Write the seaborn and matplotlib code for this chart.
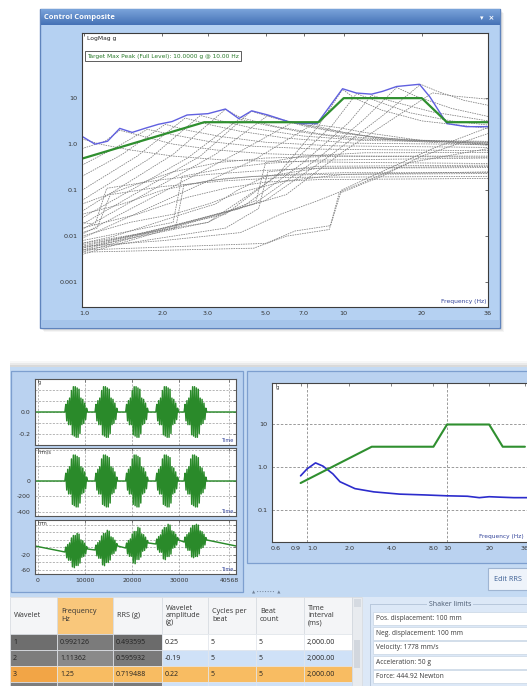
import numpy as np
import pandas as pd
import matplotlib
matplotlib.use("Agg")
import matplotlib.pyplot as plt
from matplotlib.patches import Rectangle
from matplotlib.ticker import NullLocator
import seaborn as sns

# ---------------- Control Composite (SRS, log-log) ----------------
target_freq = [0.9, 2.9, 8.0, 10.0, 20.0, 25.0, 36.0]
target_g = [0.42, 3.0, 3.0, 10.0, 10.0, 3.0, 3.0]

peak_freq = [0.98, 1.1, 1.23, 1.37, 1.53, 1.71, 1.93, 2.18, 2.49, 3.0, 3.5, 3.94, 4.42,
             5.1, 6.1, 6.9, 7.9, 9.9, 11.2, 12.8, 14.1, 16.0, 19.6, 21.5, 25.0, 29.7, 36.0]
peak_g = [1.48, 1.0, 1.16, 2.2, 1.8, 2.2, 2.7, 3.1, 4.3, 4.6, 5.8, 3.6, 5.3,
          4.3, 3.1, 2.8, 2.8, 16.0, 12.9, 12.2, 14.0, 17.9, 20.0, 10.6, 2.8, 2.4, 2.4]

# per-wavelet SRS traces, [frequency Hz, g] vertices
upper_traces = [
    [[0.98, 1.3], [1.15, 1.0], [1.5, 0.75], [2.2, 0.55], [3.5, 0.45], [6, 0.42], [12, 0.4], [36, 0.38]],
    [[0.98, 0.8], [1.2, 1.15], [1.37, 2.0], [1.6, 1.6], [2.2, 1.0], [3.2, 0.75], [5, 0.62], [10, 0.55], [36, 0.52]],
    [[0.98, 0.35], [1.3, 0.8], [1.75, 2.1], [2.2, 1.6], [3.0, 1.15], [4.5, 0.9], [8, 0.78], [36, 0.72]],
    [[0.98, 0.2], [1.4, 0.6], [2.05, 2.7], [2.5, 2.0], [3.4, 1.45], [5, 1.1], [9, 0.92], [36, 0.85]],
    [[0.98, 0.1], [1.6, 0.55], [2.45, 3.7], [3.0, 2.7], [4.0, 1.9], [6, 1.35], [11, 1.05], [36, 0.98]],
    [[0.98, 0.06], [1.8, 0.5], [2.8, 4.2], [3.3, 3.3], [4.5, 2.2], [7, 1.5], [12, 1.2], [36, 1.1]],
    [[0.98, 0.035], [2.2, 0.6], [3.5, 5.7], [4.0, 3.8], [5.5, 2.4], [8.5, 1.6], [15, 1.25], [36, 1.15]],
    [[0.98, 0.025], [2.5, 0.5], [3.95, 3.5], [5.0, 2.6], [7, 1.8], [11, 1.3], [36, 1.1]],
    [[0.98, 0.018], [2.8, 0.55], [4.4, 5.2], [5.3, 3.8], [7, 2.5], [10, 1.7], [18, 1.2], [36, 1.05]],
    [[0.98, 0.014], [3.2, 0.6], [5.1, 4.2], [6.3, 3.0], [8.5, 2.1], [13, 1.4], [36, 1.0]],
    [[0.98, 0.011], [3.8, 0.6], [6.3, 2.9], [8, 2.4], [10, 1.8], [16, 1.2], [36, 0.95]],
    [[0.98, 0.009], [4.5, 0.45], [7.6, 2.7], [9.5, 2.3], [12, 1.8], [20, 1.2], [36, 1.0]],
]
high_traces = [
    [[0.98, 0.007], [3, 0.02], [5.5, 0.2], [8, 2.5], [9.9, 15.5], [11, 10], [14, 5.5], [20, 3.2], [36, 2.2]],
    [[0.98, 0.006], [3.5, 0.03], [6, 0.3], [9, 2.5], [11.2, 12.5], [13.5, 8.5], [18, 4.8], [26, 3.2], [36, 2.6]],
    [[0.98, 0.0055], [4, 0.04], [7, 0.4], [10.5, 3], [12.8, 11.5], [16, 8], [22, 5], [36, 3.2]],
    [[0.98, 0.005], [4.5, 0.05], [8, 0.5], [12, 3.5], [16, 17], [19, 11], [26, 6], [36, 4]],
    [[0.98, 0.0045], [5, 0.06], [9, 0.6], [14, 4], [19.8, 20], [23, 14], [29, 9], [36, 7]],
    [[0.98, 0.004], [6, 0.08], [10, 0.7], [16, 4], [22, 13], [27, 11], [36, 9.5]],
]
step_traces = [
    [[0.98, 0.02], [1.1, 0.018], [1.22, 0.11], [2.0, 0.17], [3.0, 0.22], [5, 0.27], [8, 0.3], [36, 0.31]],
    [[0.98, 0.012], [1.12, 0.015], [1.26, 0.08], [2.0, 0.12], [3.5, 0.16], [6, 0.19], [36, 0.2]],
    [[0.98, 0.008], [2.2, 0.02], [2.38, 0.2], [3.5, 0.3], [5, 0.38], [8, 0.45], [36, 0.5]],
    [[0.98, 0.0065], [2.25, 0.015], [2.42, 0.13], [3.5, 0.18], [6, 0.22], [10, 0.24], [36, 0.24]],
    [[0.98, 0.0055], [3.0, 0.02], [3.8, 0.04], [4.6, 0.06], [5.0, 0.4], [7, 0.55], [12, 0.65], [36, 0.66]],
    [[0.98, 0.005], [3.5, 0.015], [4.7, 0.04], [5.1, 0.25], [8, 0.33], [36, 0.35]],
    [[0.98, 0.0045], [4.5, 0.0055], [6, 0.01], [8.8, 0.014], [9.6, 0.085], [14, 0.2], [20, 0.55], [36, 1.7]],
    [[0.98, 0.005], [5, 0.007], [6.5, 0.013], [8.9, 0.017], [9.8, 0.1], [15, 0.3], [22, 0.8], [36, 2.3]],
    [[0.98, 0.006], [2, 0.008], [4, 0.012], [5.7, 0.03], [8, 0.06], [12, 0.15], [18, 0.4], [36, 0.8]],
    [[0.98, 0.01], [1.5, 0.02], [2.2, 0.03], [3.0, 0.05], [4, 0.09], [6, 0.16], [10, 0.22], [36, 0.25]],
    [[0.98, 0.015], [1.6, 0.03], [2.5, 0.07], [3.5, 0.11], [5, 0.15], [8, 0.17], [36, 0.18]],
    [[0.98, 0.03], [1.4, 0.05], [2, 0.1], [3, 0.16], [4.5, 0.2], [8, 0.22], [36, 0.23]],
    [[0.98, 0.05], [1.5, 0.12], [2.2, 0.25], [3.3, 0.4], [5, 0.5], [10, 0.55], [36, 0.55]],
    [[0.98, 0.007], [1.3, 0.01], [1.8, 0.018], [2.6, 0.035], [3.2, 0.05], [3.9, 0.1], [5, 0.2], [8, 0.3], [36, 0.33]],
]
srs_ticks = [1, 2, 3, 5, 7, 10, 20, 36]
srs_ticklabels = ["1.0", "2.0", "3.0", "5.0", "7.0", "10", "20", "36"]

# ---------------- selected wavelet RRS ----------------
rrs_freq = [0.9, 1.0, 1.15, 1.3, 1.53, 1.72, 2.2, 3.0, 4.6, 7.0, 10.0, 14.0, 17.0, 20.0, 24.0, 30.0, 40.0]
rrs_g = [0.62, 0.9, 1.25, 1.05, 0.69, 0.45, 0.31, 0.26, 0.23, 0.22, 0.21, 0.205, 0.19, 0.2, 0.195, 0.19, 0.19]
rrs_ticks = [0.6, 0.9, 1.0, 2.0, 4.0, 8.0, 10, 20, 36]
rrs_ticklabels = ["0.6", "0.9", "1.0", "2.0", "4.0", "8.0", "10", "20", "36"]

# ---------------- time histories of the beat sequence ----------------
beat_times = [8100, 14500, 21000, 27400, 33400]
beat_offsets = [-2400, -2200, -2000, -1800, -1600, -1400, -1200, -1000, -800, -600, -400, -200, 0,
                200, 400, 600, 800, 1000, 1200, 1400, 1600, 1800, 2000, 2200, 2400]
beat_shape = [0, 0.3, -0.35, 0.45, -0.5, 0.55, -0.5, 0.85, -0.9, 1.0, -0.95, 1.0, -1.0,
              0.95, -1.0, 0.9, -0.85, 0.55, -0.5, 0.5, -0.45, 0.35, -0.3, 0.15, 0]
accel_amp = 0.23
vel_amp = 335.0
disp_amp = 44.0
disp_start, disp_end = 4.0, 4.0
disp_before = [-12.0, -6.7, -1.4, 9.3, 14.6]
disp_after = [-4.0, 4.0, 12.0, 20.0, 20.0]
time_ticks = [0, 10000, 20000, 30000, 40568]

# ---------------- wavelet table and shaker limits ----------------
table_headers = ["Wavelet", "Frequency\nHz", "RRS (g)", "Wavelet\namplitude\n(g)",
                 "Cycles per\nbeat", "Beat\ncount", "Time\ninterval\n(ms)"]
wavelet_id = ["1", "2", "3"]
wavelet_freq = ["0.992126", "1.11362", "1.25"]
wavelet_rrs = ["0.493595", "0.595932", "0.719488"]
wavelet_amp = ["0.25", "-0.19", "0.22"]
wavelet_cycles = ["5", "5", "5"]
wavelet_beats = ["5", "5", "5"]
wavelet_interval = ["2,000.00", "2,000.00", "2,000.00"]
shaker_limits = ["Pos. displacement: 100 mm", "Neg. displacement: 100 mm",
                 "Velocity: 1778 mm/s", "Acceleration: 50 g", "Force: 444.92 Newton"]

# ======================================================================
W, H = 527, 686
sns.set_style("white")
plt.rcParams["font.family"] = ["DejaVu Sans"]
UI = ["Open Sans", "DejaVu Sans"]

fig = plt.figure(figsize=(W / 100, H / 100), dpi=100)
fig.patch.set_facecolor("white")
bg = fig.add_axes([0, 0, 1, 1], zorder=0)
bg.axis("off")


def rect(x0, y0, x1, y1, fc, ec="none", lw=0.8, z=1, alpha=1.0):
    bg.add_patch(Rectangle((x0, y0), x1 - x0, y1 - y0, facecolor=fc, edgecolor=ec,
                           linewidth=lw, zorder=z, alpha=alpha))


def px_axes(x0, y0, x1, y1, z=2):
    return fig.add_axes([x0 / W, 1 - y1 / H, (x1 - x0) / W, (y1 - y0) / H], zorder=z)


def vgrad(x0, y0, x1, y1, c_top, c_bot, z=3):
    t = np.linspace(0, 1, 32)[:, None, None]
    img = (1 - t) * np.array(c_top)[None, None, :] + t * np.array(c_bot)[None, None, :]
    img = np.repeat(img, 2, axis=1)
    bg.imshow(img, extent=(x0, x1, y1, y0), aspect="auto", zorder=z, interpolation="bilinear")


def hex2rgb(h):
    h = h.lstrip("#")
    return [int(h[i:i + 2], 16) / 255 for i in (0, 2, 4)]


# ---------------- top window chrome ----------------
for k, a in enumerate([0.05, 0.05, 0.04]):
    rect(40 + 2 + k, 9 + 2 + k, 500 + 2 + k, 328 + 2 + k, "black", alpha=a, z=0.5)
rect(40, 9, 500, 328, "#b5d1f2", ec="#5f84bd", lw=1.0)
rect(41, 320, 499, 327, "#a5c4ea")
vgrad(40.5, 9.5, 499.5, 25, hex2rgb("#7aa3da"), hex2rgb("#4572b6"))
bg.text(44, 17.5, "Control Composite", color="white", fontsize=5.4, fontweight="bold",
        va="center", ha="left", family=UI, zorder=4)
bg.text(494, 17.5, "\u25be  \u00d7", color="white", fontsize=5.0, fontweight="bold",
        va="center", ha="right", zorder=4)

# ---------------- bottom workspace chrome ----------------
for k, a in enumerate([0.03, 0.05, 0.07]):
    rect(10, 361 + 2 * k, W, 367, "black", alpha=a, z=0.5)
rect(10, 367, W, 597, "#c4daf3")
rect(11, 371, 243, 592, "#bad2f0", ec="#7d9fcf", lw=0.9)
rect(247, 371, 545, 563, "#bad2f0", ec="#7d9fcf", lw=0.9)
rect(488, 568, 545, 590, "#eef3fa", ec="#9fb5d2", lw=0.8, z=2)
bg.text(494, 579.5, "Edit RRS", color="#3a5d92", fontsize=5.2, va="center", ha="left",
        family=UI, zorder=3)
bg.text(252, 592.5, "\u25b2 \u2219\u2219\u2219\u2219\u2219\u2219\u2219  \u25b2", color="#6f7f95",
        fontsize=3.0, va="center", ha="left", zorder=3)

# ---------------- Control Composite plot ----------------
ax = px_axes(82, 33, 488, 307)
ax.set_facecolor("white")
rows = []
for gi, group in enumerate((upper_traces, high_traces, step_traces)):
    for ti, pts in enumerate(group):
        for f, g in pts:
            rows.append({"trace": f"{gi}-{ti}", "freq": f, "g": g})
traces = pd.DataFrame(rows)
sns.lineplot(data=traces, x="freq", y="g", units="trace", estimator=None, sort=False,
             color="#7c7c7c", linewidth=0.55, linestyle=(0, (2.0, 1.2)), ax=ax, legend=False)
sns.lineplot(x=peak_freq, y=peak_g, color="#6060e0", linewidth=1.0, ax=ax, sort=False,
             estimator=None)
sns.lineplot(x=target_freq, y=target_g, color="#2f8f2f", linewidth=1.6, ax=ax, sort=False,
             estimator=None)
ax.set_xscale("log")
ax.set_yscale("log")
ax.set_xlim(0.98, 35.8)
ax.set_ylim(2.9e-4, 260)
ax.set_xticks(srs_ticks)
ax.set_xticklabels(srs_ticklabels)
ax.set_yticks([0.001, 0.01, 0.1, 1, 10])
ax.set_yticklabels(["0.001", "0.01", "0.1", "1.0", "10"])
ax.xaxis.set_minor_locator(NullLocator())
ax.yaxis.set_minor_locator(NullLocator())
ax.tick_params(which="major", direction="in", length=2.5, width=0.6, top=True, right=True,
               labelsize=4.6, pad=3, color="#555", labelcolor="#333")
ax.set_xlabel("")
ax.set_ylabel("")
for s in ax.spines.values():
    s.set_color("#3c3c3c")
    s.set_linewidth(0.8)
ax.text(0.012, 0.988, "LogMag g", transform=ax.transAxes, fontsize=4.3, color="#222",
        va="top", ha="left")
ax.text(0.012, 0.925, "Target Max Peak (Full Level): 10.0000 g @ 10.00 Hz",
        transform=ax.transAxes, fontsize=4.25, color="#2a7a2a", va="top", ha="left",
        bbox=dict(boxstyle="square,pad=0.35", fc="white", ec="#444", lw=0.6))
ax.text(0.996, 0.012, "Frequency (Hz)", transform=ax.transAxes, fontsize=4.3,
        color="#33449a", va="bottom", ha="right")

# ---------------- time history plots ----------------
def beat_series(amp, before, after, start, end):
    t = [-640]
    v = [start]
    for i, c in enumerate(beat_times):
        for k, (o, s) in enumerate(zip(beat_offsets, beat_shape)):
            base = before[i] if k < len(beat_offsets) // 2 else after[i]
            t.append(c + o)
            v.append(base + amp * s)
    t.append(42000)
    v.append(end)
    return t, v


zeros = [0.0] * len(beat_times)
channels = [
    dict(box=(35, 379, 236, 445), amp=accel_amp, before=zeros, after=zeros, start=0.0, end=0.0,
         ylim=(-0.3, 0.3), grid=[-0.2, -0.1, 0.0, 0.1, 0.2], labels=["-0.2", "", "0.0", "", ""],
         unit="g"),
    dict(box=(35, 448, 236, 516), amp=vel_amp, before=zeros, after=zeros, start=0.0, end=0.0,
         ylim=(-452, 426), grid=[-400, -200, 0, 200, 400], labels=["-400", "-200", "0", "", ""],
         unit="mm/s"),
    dict(box=(35, 520, 236, 574), amp=disp_amp, before=disp_before, after=disp_after,
         start=disp_start, end=disp_end, ylim=(-70.7, 73.3), grid=[-60, -40, -20, 0, 20, 40, 60],
         labels=["-60", "", "-20", "", "", "", ""], unit="mm"),
]
for i, ch in enumerate(channels):
    axw = px_axes(*ch["box"])
    axw.set_facecolor("white")
    t, v = beat_series(ch["amp"], ch["before"], ch["after"], ch["start"], ch["end"])
    sns.lineplot(x=t, y=v, sort=False, estimator=None, color="#2a8a2a", linewidth=1.05, ax=axw)
    axw.set_xlim(-640, 42000)
    axw.set_ylim(*ch["ylim"])
    axw.set_xticks(time_ticks)
    axw.set_yticks(ch["grid"])
    axw.set_yticklabels(ch["labels"])
    axw.grid(True, color="#9a9a9a", linestyle=(0, (3, 2)), linewidth=0.5)
    axw.tick_params(direction="in", length=2, width=0.5, labelsize=4.4, pad=3,
                    color="#555", labelcolor="#333", top=True, right=True)
    if i < 2:
        axw.set_xticklabels([])
    else:
        axw.set_xticklabels([str(x) for x in time_ticks])
    for s in axw.spines.values():
        s.set_color("#555")
        s.set_linewidth(0.8)
    axw.text(0.012, 0.985, ch["unit"], transform=axw.transAxes, fontsize=3.6, color="#333",
             va="top", ha="left")
    axw.text(0.985, 0.03, "Time", transform=axw.transAxes, fontsize=3.6, color="#33449a",
             va="bottom", ha="right")

# ---------------- RRS of the selected wavelet ----------------
axr = px_axes(272, 383, 545, 542)
axr.set_facecolor("white")
sns.lineplot(x=rrs_freq, y=rrs_g, color="#2c2ccc", linewidth=1.2, ax=axr, sort=False,
             estimator=None)
sns.lineplot(x=target_freq, y=target_g, color="#2f8f2f", linewidth=1.5, ax=axr, sort=False,
             estimator=None)
axr.set_xscale("log")
axr.set_yscale("log")
axr.set_xlim(0.5623, 50.1)
axr.set_ylim(0.0172, 94.7)
axr.set_xticks(rrs_ticks)
axr.set_xticklabels(rrs_ticklabels)
axr.set_yticks([0.1, 1, 10])
axr.set_yticklabels(["0.1", "1.0", "10"])
axr.xaxis.set_minor_locator(NullLocator())
axr.yaxis.set_minor_locator(NullLocator())
axr.tick_params(direction="in", length=2, width=0.5, labelsize=4.6, pad=3, color="#555",
                labelcolor="#333", top=True, right=True)
# the 0.9 and 1.0 ticks sit close together: lean their labels apart
for lab in axr.get_xticklabels():
    if lab.get_text() == "0.9":
        lab.set_horizontalalignment("right")
    elif lab.get_text() == "1.0":
        lab.set_horizontalalignment("left")
for yv in (0.1, 1, 10):
    axr.axhline(yv, color="#8a8a8a", linestyle=(0, (3, 2)), linewidth=0.6, zorder=0)
for xv in (1.0, 10.0):
    axr.axvline(xv, color="#8a8a8a", linestyle=(0, (3, 2)), linewidth=0.6, zorder=0)
for s in axr.spines.values():
    s.set_color("#444")
    s.set_linewidth(0.8)
axr.text(0.012, 0.985, "g", transform=axr.transAxes, fontsize=3.8, color="#333",
         va="top", ha="left")
axr.text(0.922, 0.02, "Frequency (Hz)", transform=axr.transAxes, fontsize=4.2,
         color="#33449a", va="bottom", ha="right")

# ---------------- wavelet table ----------------
col_x = [10, 57, 113, 162, 208, 256, 304, 352]
row_y = [597, 634, 650, 666, 682, 700]
rect(10, 597, 362, H, "white", z=1)
for c in range(7):
    fc = "#f9c77b" if c == 1 else "#f4f5f7"
    rect(col_x[c], row_y[0], col_x[c + 1], row_y[1], fc, ec="#d9dde3", lw=0.6, z=2)
    bg.text(col_x[c] + 4, (row_y[0] + row_y[1]) / 2, table_headers[c], fontsize=5.2,
            color="#333", va="center", ha="left", family=UI, linespacing=1.05, zorder=3)

table_cols = [wavelet_id, wavelet_freq, wavelet_rrs, wavelet_amp, wavelet_cycles,
              wavelet_beats, wavelet_interval]
row_fill = [
    ["#6e6e6e", "#7b7b7b", "#6b6b6b", "white", "white", "white", "white"],
    ["#7d7d7d", "#8a8a8a", "#7a7a7a", "#cfe1f7", "#cfe1f7", "#cfe1f7", "#cfe1f7"],
    ["#f2a546", "#f8bc62", "#f8bc62", "#f8bc62", "#f8bc62", "#f8bc62", "#f8bc62"],
    ["#7d7d7d", "#8a8a8a", "#7a7a7a", "#cfe1f7", "#cfe1f7", "#cfe1f7", "#cfe1f7"],
]
for r in range(4):
    for c in range(7):
        rect(col_x[c], row_y[r + 1], col_x[c + 1], row_y[r + 2], row_fill[r][c],
             ec="#e2e6ec", lw=0.5, z=2)
        if r < 3:
            bg.text(col_x[c] + 3, (row_y[r + 1] + row_y[r + 2]) / 2 + 0.5, table_cols[c][r],
                    fontsize=5.0, color="#222", va="center", ha="left", family=UI, zorder=3)
# scrollbar
rect(352, 597, 362, H, "#e8ebef", ec="#d0d5dc", lw=0.5, z=2)
rect(353.5, 599, 360.5, 607, "#d5dae1", z=3)
rect(354, 640, 360, 668, "#d2d7de", z=3)

# ---------------- shaker limits ----------------
rect(363, 597, W, H, "#dce8f7", z=1)
rect(370, 604, 540, 700, "none", ec="#b7c7dc", lw=0.7, z=2)
bg.text(450, 604, "Shaker limits", fontsize=5.0, color="#4a5a70", va="center", ha="center",
        family=UI, zorder=3, bbox=dict(boxstyle="square,pad=0.25", fc="#dce8f7", ec="none"))
for i, s in enumerate(shaker_limits):
    y0 = 612 + i * 14.5
    rect(373, y0, 540, y0 + 13, "white", ec="#c9d5e4", lw=0.5, z=2)
    bg.text(376, y0 + 6.7, s, fontsize=4.8, color="#3a3a3a", va="center", ha="left",
            family=UI, zorder=3)

bg.set_xlim(0, W)
bg.set_ylim(H, 0)

fig.savefig("out.png", dpi=100, facecolor="white")
